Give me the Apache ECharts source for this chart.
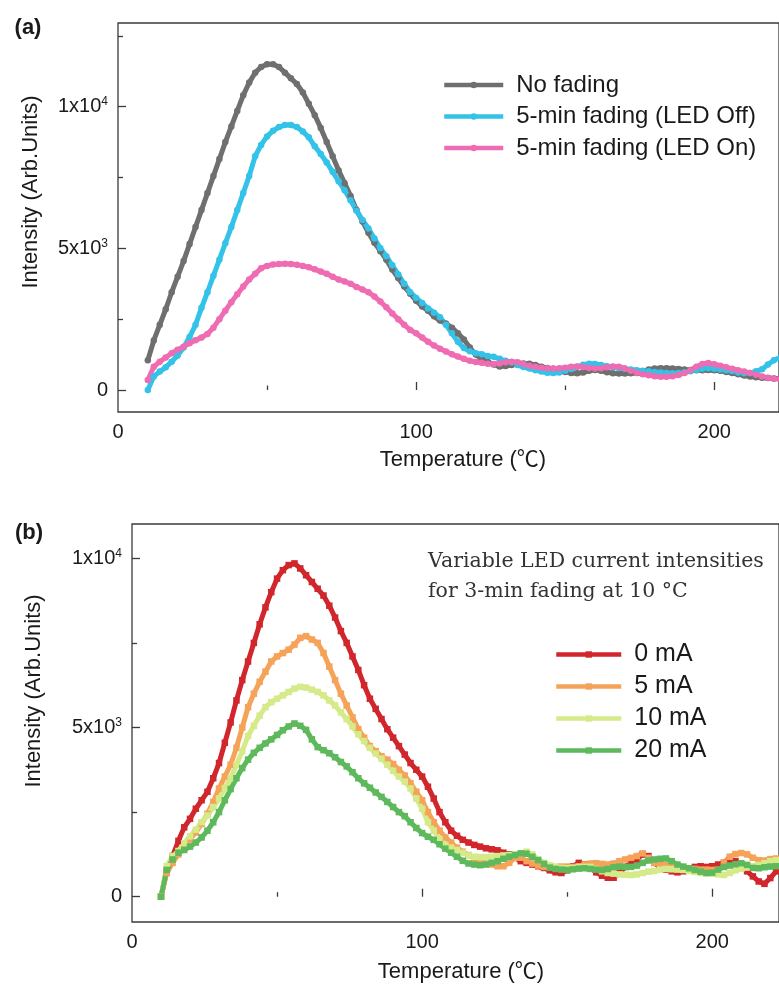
<!DOCTYPE html>
<html>
<head>
<meta charset="utf-8">
<title>TL glow curves</title>
<script src="https://cdn.jsdelivr.net/npm/echarts@6/dist/echarts.min.js"></script>
<style>
  html, body { margin: 0; padding: 0; background: #fff; }
  #chart { width: 779px; height: 984px; }
</style>
</head>
<body>
<div id="chart"></div>
<script>
// temperature (°C), shared by both panels
const temps = [
  10, 12, 14, 16, 18, 20, 22, 24, 26, 28,
  30, 32, 34, 36, 38, 40, 42, 44, 46, 48,
  50, 52, 54, 56, 58, 60, 62, 64, 66, 68,
  70, 72, 74, 76, 78, 80, 82, 84, 86, 88,
  90, 92, 94, 96, 98, 100, 102, 104, 106, 108,
  110, 112, 114, 116, 118, 120, 122, 124, 126, 128,
  130, 132, 134, 136, 138, 140, 142, 144, 146, 148,
  150, 152, 154, 156, 158, 160, 162, 164, 166, 168,
  170, 172, 174, 176, 178, 180, 182, 184, 186, 188,
  190, 192, 194, 196, 198, 200, 202, 204, 206, 208,
  210, 212, 214, 216, 218, 220, 222
];

// panel (a)
const noFading = [
  1050, 1750, 2300, 2850, 3450, 4000, 4550, 5150, 5750, 6350,
  6950, 7550, 8150, 8750, 9300, 9850, 10400, 10850, 11200, 11400,
  11500, 11500, 11400, 11200, 11000, 10800, 10500, 10100, 9700, 9250,
  8750, 8250, 7750, 7300, 6850, 6350, 5950, 5550, 5200, 4900,
  4600, 4250, 3950, 3650, 3400, 3150, 2950, 2800, 2600, 2450,
  2350, 2200, 2000, 1780, 1500, 1250, 1100, 1000, 900, 830,
  850, 880, 920, 940, 930, 880, 820, 780, 750, 700,
  640, 600, 590, 620, 680, 710, 680, 630, 590, 580,
  580, 590, 600, 650, 720, 760, 770, 770, 760, 740,
  720, 710, 700, 700, 710, 700, 680, 640, 600, 560,
  510, 480, 450, 430, 420, 410, 410
];
const ledOff = [
  0, 480, 650, 800, 1000, 1220, 1500, 1870, 2300, 2900,
  3450, 4030, 4600, 5180, 5750, 6350, 6950, 7550, 8250, 8650,
  8950, 9150, 9280, 9350, 9350, 9280, 9120, 8920, 8600, 8330,
  8030, 7700, 7370, 7050, 6700, 6330, 6000, 5700, 5350, 5000,
  4720, 4400, 4080, 3750, 3450, 3250, 3070, 2880, 2730, 2570,
  2300, 2000, 1700, 1480, 1370, 1300, 1260, 1200, 1170, 1100,
  1030, 970, 880, 810, 760, 700, 650, 610, 600, 620,
  680, 740, 820, 890, 930, 920, 880, 840, 810, 780,
  750, 720, 700, 680, 660, 640, 620, 600, 590, 600,
  630, 660, 710, 750, 770, 750, 720, 700, 670, 620,
  590, 600, 660, 730, 900, 1050, 1150
];
const ledOn = [
  350, 820, 1000, 1150, 1300, 1420, 1530, 1650, 1760, 1850,
  1980, 2200, 2500, 2800, 3100, 3380, 3650, 3900, 4100, 4300,
  4380, 4430, 4450, 4460, 4450, 4420, 4380, 4330, 4260, 4180,
  4100, 4000, 3900, 3830, 3750, 3640, 3550, 3450, 3300, 3120,
  2920, 2700, 2500, 2300, 2120, 2000, 1850, 1700, 1570, 1460,
  1360, 1260, 1180, 1100, 1030, 990, 960, 930, 920, 940,
  980, 1000, 980, 920, 860, 820, 790, 770, 760, 770,
  790, 820, 830, 810, 780, 760, 770, 800, 830, 820,
  760, 680, 610, 560, 520, 490, 470, 470, 490, 530,
  600, 700, 820, 920, 950, 910, 860, 800, 750, 700,
  650, 600, 540, 480, 430, 400, 390
];

// panel (b)
const mA0 = [
  0, 800, 1200, 1650, 2050, 2300, 2600, 2850, 3100, 3500,
  3950, 4550, 5150, 5800, 6400, 6950, 7500, 8050, 8550, 9000,
  9400, 9650, 9800, 9850, 9700, 9500, 9300, 9100, 8900, 8600,
  8250, 7850, 7500, 7100, 6700, 6250, 5850, 5550, 5250, 4950,
  4700, 4450, 4200, 3950, 3750, 3550, 3250, 2900, 2500, 2200,
  1950, 1800, 1680, 1600, 1530, 1480, 1430, 1400, 1370, 1300,
  1250, 1150, 1050, 1000, 950, 900, 850, 780, 720, 700,
  780, 900, 1000, 950, 850, 720, 620, 560, 560, 700,
  880, 1000, 1100, 1250, 1200, 1000, 880, 800, 750, 720,
  750, 820, 880, 900, 880, 900, 950, 1000, 1080, 1050,
  900, 750, 600, 450, 380, 550, 750
];
const mA5 = [
  0, 700, 1000, 1250, 1500, 1700, 1900, 2150, 2450, 2800,
  3200, 3550, 3900, 4400, 5000, 5600, 6000, 6350, 6650, 6950,
  7100, 7200, 7300, 7450, 7650, 7700, 7600, 7500, 7200, 6800,
  6400, 6000, 5650, 5300, 4950, 4700, 4450, 4300, 4150, 4050,
  3920, 3750, 3580, 3350, 3100, 2850, 2500, 2200, 1950, 1750,
  1600, 1450, 1330, 1230, 1130, 1050, 980, 950, 900, 900,
  1000, 1150, 1150, 1050, 980, 920, 880, 870, 880, 890,
  890, 880, 900, 950, 980, 990, 970, 950, 980, 1050,
  1100, 1150, 1200, 1280, 1150, 1000, 940, 930, 900, 870,
  850, 830, 820, 800, 800, 790, 800, 1000, 1180, 1260,
  1290, 1250, 1150, 1080, 1070, 1110, 1130
];
const mA10 = [
  0, 900, 1200, 1350, 1580, 1780, 1980, 2200, 2400, 2650,
  2900, 3200, 3500, 3900, 4300, 4750, 5050, 5350, 5600, 5750,
  5850, 5950, 6050, 6150, 6200, 6180, 6120, 6050, 5950, 5800,
  5650, 5450, 5250, 5030, 4800, 4600, 4400, 4230, 4080, 3900,
  3720, 3550, 3400, 3200, 2900, 2600, 2200, 1950, 1700, 1530,
  1450, 1380, 1300, 1220, 1180, 1170, 1170, 1180, 1200, 1220,
  1230, 1250, 1280, 1330, 1250, 1100, 1000, 930, 880, 850,
  840, 850, 870, 880, 880, 820, 750, 700, 680, 660,
  650, 640, 660, 700, 740, 760, 800, 820, 810, 800,
  790, 760, 730, 700, 690, 680, 660, 640, 700, 780,
  830, 860, 900, 940, 990, 1050, 1080
];
const mA20 = [
  0, 790, 1100, 1300, 1380, 1480, 1600, 1750, 1950, 2200,
  2500, 2850, 3180, 3500, 3800, 4050, 4250, 4400, 4530, 4650,
  4780, 4920, 5030, 5120, 5050, 4930, 4650, 4420, 4330, 4240,
  4120, 3980, 3850, 3680, 3500, 3350, 3220, 3080, 2950, 2800,
  2650, 2500, 2380, 2200, 2030, 1880, 1770, 1680, 1550, 1420,
  1300, 1180, 1060, 980, 950, 930, 950, 1000, 1050, 1120,
  1180, 1230, 1280, 1270, 1180, 1080, 970, 860, 820, 800,
  790, 810, 830, 840, 820, 800, 790, 820, 870, 890,
  880, 880, 920, 1000, 1070, 1100, 1120, 1130, 1050, 950,
  890, 840, 790, 740, 700, 710, 800, 880, 920, 960,
  990, 940, 850, 840, 870, 890, 900
];

const namesA = ['No fading', '5-min fading (LED Off)', '5-min fading (LED On)'];
const namesB = ['0 mA', '5 mA', '10 mA', '20 mA'];
const xLabels = [0, 100, 200];
const xMajorTicks = [100, 200];
const xMinorTicks = [50, 150];
const yLabels = [0, 5000, 10000];
const yMinorTicks = [2500, 7500, 12500];

const FONT = '"Liberation Sans", Arial, "Noto Sans CJK SC", sans-serif';
const INK = '#3a3a3a';

function sciLabel(v) {
    if (v === 0) return '0';
    const exp = Math.floor(Math.log10(v));
    const mant = Math.round(v / Math.pow(10, exp));
    return mant + 'x10{sup|' + exp + '}';
}

// main axis (labels + long ticks) and a twin carrying only the short ticks
function xAxes(gridIndex, max) {
    const base = {
        gridIndex: gridIndex, type: 'value', min: 0, max: max, position: 'bottom',
        axisLine: {show: false}, splitLine: {show: false}
    };
    return [
        Object.assign({}, base, {
            axisTick: {inside: true, length: 8, customValues: xMajorTicks, lineStyle: {color: INK, width: 1.3}},
            axisLabel: {customValues: xLabels, margin: 10, fontSize: 20, fontFamily: FONT, color: '#1a1a1a'}
        }),
        Object.assign({}, base, {
            axisTick: {inside: true, length: 4.5, customValues: xMinorTicks, lineStyle: {color: INK, width: 1.3}},
            axisLabel: {show: false}
        })
    ];
}

function yAxes(gridIndex, min, max) {
    const base = {
        gridIndex: gridIndex, type: 'value', min: min, max: max, position: 'left',
        axisLine: {show: false}, splitLine: {show: false}
    };
    return [
        Object.assign({}, base, {
            axisTick: {inside: true, length: 8, customValues: yLabels, lineStyle: {color: INK, width: 1.3}},
            axisLabel: {
                customValues: yLabels, margin: 10, fontSize: 20, lineHeight: 22,
                fontFamily: FONT, color: '#1a1a1a', formatter: sciLabel,
                rich: {sup: {fontSize: 12, lineHeight: 22, verticalAlign: 'top', fontFamily: FONT, color: '#1a1a1a'}}
            }
        }),
        Object.assign({}, base, {
            axisTick: {inside: true, length: 5, customValues: yMinorTicks, lineStyle: {color: INK, width: 1.3}},
            axisLabel: {show: false}
        })
    ];
}

function line(name, values, color, axisIndex, symbol) {
    return {
        name: name, type: 'line', xAxisIndex: axisIndex, yAxisIndex: axisIndex,
        data: temps.map((t, i) => [t, values[i]]),
        symbol: symbol, symbolSize: 6.5, showSymbol: true,
        lineStyle: {color: color, width: 5},
        itemStyle: {color: color},
        emphasis: {disabled: true}
    };
}

function legend(names, left, top, itemWidth, fontSize, gap) {
    return {
        data: names, orient: 'vertical', left: left, top: top, padding: 0,
        itemWidth: itemWidth, itemHeight: 8, itemGap: gap, selectedMode: false,
        lineStyle: {width: 4.5},
        textStyle: {fontSize: fontSize, lineHeight: fontSize, fontFamily: FONT, color: '#1a1a1a', padding: [0, 0, 0, 8]}
    };
}

function label(text, x, y, font, rotation, color) {
    return {
        type: 'text', x: x, y: y, rotation: rotation || 0,
        style: {
            text: text, font: font, fill: color || '#1a1a1a',
            textAlign: 'center', textVerticalAlign: 'middle', align: 'center', verticalAlign: 'middle'
        }
    };
}

const chart = echarts.init(document.getElementById('chart'));

chart.setOption({
    animation: false,
    backgroundColor: '#fff',
    grid: [
        {left: 118, top: 23, right: -2, bottom: 572, show: true, borderColor: INK, borderWidth: 1.3},
        {left: 132, top: 524, right: -2, bottom: 62, show: true, borderColor: INK, borderWidth: 1.3}
    ],
    xAxis: xAxes(0, 221.7).concat(xAxes(1, 223)),
    yAxis: yAxes(0, -776, 12953).concat(yAxes(1, -748, 11014)),
    legend: [
        legend(namesA, 442, 73, 59, 24, 7.5),
        legend(namesB, 554, 642, 65, 25, 7)
    ],
    series: [
        line(namesA[0], noFading, '#6f6f6f', 0, 'circle'),
        line(namesA[1], ledOff, '#33c2e8', 0, 'circle'),
        line(namesA[2], ledOn, '#ef6cb2', 0, 'circle'),
        line(namesB[0], mA0, '#d0262c', 2, 'rect'),
        line(namesB[1], mA5, '#f6a35a', 2, 'rect'),
        line(namesB[2], mA10, '#d5ea88', 2, 'rect'),
        line(namesB[3], mA20, '#5db95b', 2, 'rect')
    ],
    graphic: [
        label('(a)', 28, 28, 'bold 22px ' + FONT),
        label('(b)', 29, 533, 'bold 22px ' + FONT),
        label('Intensity (Arb.Units)', 31, 192, '22px ' + FONT, Math.PI / 2),
        label('Intensity (Arb.Units)', 34, 691, '22px ' + FONT, Math.PI / 2),
        label('Temperature (℃)', 463, 460, '22px ' + FONT),
        label('Temperature (℃)', 461, 972, '22px ' + FONT),
        {
            type: 'text', x: 428, y: 577,
            style: {
                text: 'Variable LED current intensities\nfor 3-min fading at 10 °C',
                font: '20.5px "DejaVu Serif", serif', lineHeight: 30, fill: '#333',
                textAlign: 'left', textVerticalAlign: 'middle', align: 'left', verticalAlign: 'middle'
            }
        }
    ]
});
</script>
</body>
</html>
